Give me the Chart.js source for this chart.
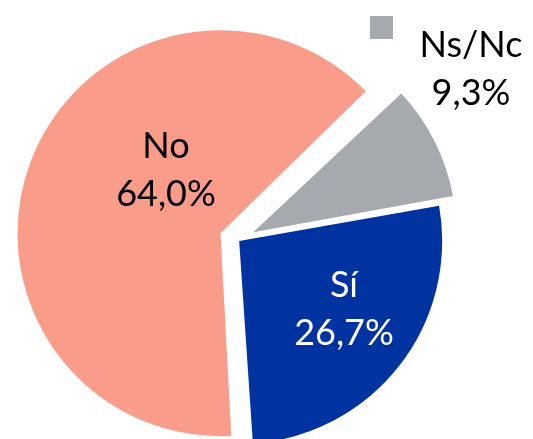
<!DOCTYPE html>
<html>
<head>
<meta charset="utf-8">
<script src="https://cdn.jsdelivr.net/npm/chart.js@4/dist/chart.umd.min.js"></script>
<style>
  html, body { margin: 0; padding: 0; background: #fff; }
  #wrap { width: 533px; height: 439px; position: relative; }
</style>
</head>
<body>
<div id="wrap"><canvas id="rosco"></canvas></div>
<script>
// Data
const categorias = ['Sí', 'No', 'Ns/Nc'];
const porcentajes = [26.7, 64.0, 9.3];

// Styles
const colores = ['#0033A0', '#F99C8A', '#A6A9AE'];
const coloresTexto = ['#ffffff', '#000000', '#000000'];
const desplazamientos = [6, 75, 68];   // explode offsets (chart.js units)
const radio = 203;
const posEtiquetas = [[344, 297], [166, 158], [471, 57]];
const interlineado = 48;

function fmt(v) {
    return v.toFixed(1).replace('.', ',') + '%';
}

// Chart.js grows the radius of exploded wide slices; keep all slices same size
const radioFijo = {
    id: 'radioFijo',
    afterDatasetsUpdate(chart) {
        chart.getDatasetMeta(0).data.forEach((arc, i) => {
            const fix = 1 - Math.sin(Math.min(Math.PI, arc.circumference));
            arc.outerRadius = radio - (desplazamientos[i] / 4) * fix;
        });
    }
};

// Two-line labels and the small square next to Ns/Nc
const etiquetasPlugin = {
    id: 'etiquetas',
    afterDatasetsDraw(chart) {
        const ctx = chart.ctx;
        ctx.save();
        ctx.font = '36px Lato';
        ctx.textAlign = 'center';
        ctx.textBaseline = 'alphabetic';
        categorias.forEach((cat, i) => {
            const [x, y] = posEtiquetas[i];
            ctx.fillStyle = coloresTexto[i];
            ctx.fillText(cat, x, y);
            ctx.fillText(fmt(porcentajes[i]), x, y + interlineado);
        });
        ctx.fillStyle = colores[2];
        ctx.fillRect(370, 16, 23, 23);
        ctx.restore();
    }
};

new Chart(document.getElementById('rosco'), {
    type: 'pie',
    data: {
        labels: categorias,
        datasets: [{
            data: porcentajes,
            backgroundColor: colores,
            borderWidth: 0,
            offset: desplazamientos,
            radius: radio
        }]
    },
    options: {
        responsive: true,
        maintainAspectRatio: false,
        animation: false,
        rotation: 80,
        layout: { padding: { left: 0, right: 57, top: 41, bottom: 0 } },
        plugins: {
            legend: { display: false },
            tooltip: { enabled: false }
        }
    },
    plugins: [radioFijo, etiquetasPlugin]
});
</script>
</body>
</html>
